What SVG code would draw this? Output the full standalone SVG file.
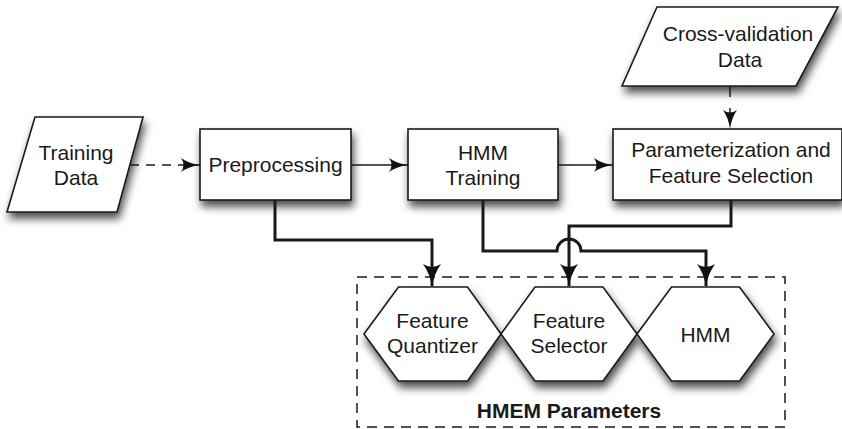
<svg xmlns="http://www.w3.org/2000/svg" width="842" height="429" viewBox="0 0 842 429">
<defs>
<filter id="sh" x="-20%" y="-20%" width="150%" height="160%">
<feDropShadow dx="2" dy="6" stdDeviation="4.5" flood-color="#000" flood-opacity="0.7"/>
</filter>
<marker id="thin" markerUnits="userSpaceOnUse" markerWidth="20" markerHeight="14" refX="19" refY="7" orient="auto" viewBox="0 0 20 14">
<path d="M0,0 Q8,5.5 19,7 Q8,8.5 0,14 Q5,7 0,0 Z" fill="#111"/>
</marker>
<marker id="thick" markerUnits="userSpaceOnUse" markerWidth="23" markerHeight="18" refX="22" refY="9" orient="auto" viewBox="0 0 23 18">
<path d="M0,0 Q10,7 22,9 Q10,11 0,18 Q6,9 0,0 Z" fill="#111"/>
</marker>
</defs>
<style>
.shape{fill:#fff;stroke:#1a1a1a;stroke-width:1.6;filter:url(#sh)}
.t{font-family:"Liberation Sans",Arial,sans-serif;font-size:21px;fill:#1a1a1a;text-anchor:middle}
.b{font-weight:bold}
.thin{fill:none;stroke:#1a1a1a;stroke-width:1.5}
.thk{fill:none;stroke:#1a1a1a;stroke-width:3;stroke-linejoin:miter}
.dash{stroke-dasharray:9,7}
</style>

<g id="hmem-parameters">
<rect x="357" y="277" width="428" height="150" fill="none" stroke="#1a1a1a" stroke-width="1.5" stroke-dasharray="10,7"/>
<text class="t b" x="569" y="418">HMEM Parameters</text>
</g>

<g id="training-data">
<polygon class="shape" points="35,117 143,117 117,212 7,212"/>
<text class="t" x="76" y="160">Training</text>
<text class="t" x="76" y="185">Data</text>
</g>

<g id="preprocessing">
<rect class="shape" x="200" y="129" width="151" height="71"/>
<text class="t" x="275.5" y="172">Preprocessing</text>
</g>

<g id="hmm-training">
<rect class="shape" x="408" y="129" width="150" height="71"/>
<text class="t" x="483" y="160">HMM</text>
<text class="t" x="483" y="185">Training</text>
</g>

<g id="parameterization">
<rect class="shape" x="613" y="129" width="229" height="71"/>
<text class="t" x="731" y="157">Parameterization and</text>
<text class="t" x="731" y="183">Feature Selection</text>
</g>

<g id="cross-validation-data">
<polygon class="shape" points="657,7 838,7 796,86 622,86"/>
<text class="t" x="738" y="41">Cross-validation</text>
<text class="t" x="740" y="67">Data</text>
</g>

<g id="feature-quantizer">
<polygon class="shape" points="364,334 398.5,287 467.5,287 501,334 467.5,381 398.5,381"/>
<text class="t" x="432.5" y="328">Feature</text>
<text class="t" x="432.5" y="353">Quantizer</text>
</g>

<g id="feature-selector">
<polygon class="shape" points="501,334 535,287 603,287 637,334 603,381 535,381"/>
<text class="t" x="569" y="328">Feature</text>
<text class="t" x="569" y="353">Selector</text>
</g>

<g id="hmm">
<polygon class="shape" points="637,334 671.5,287 739.5,287 774,334 739.5,381 671.5,381"/>
<text class="t" x="705.5" y="342">HMM</text>
</g>

<g id="connectors">
<path class="thin dash" d="M130,165 H200" marker-end="url(#thin)"/>
<path class="thin" d="M351,165 H408" marker-end="url(#thin)"/>
<path class="thin" d="M558,165 H613" marker-end="url(#thin)"/>
<path class="thin" d="M730,86 V129" stroke-dasharray="11,11" marker-end="url(#thin)"/>
<path class="thk" d="M275,200 V240 H432 V286" marker-end="url(#thick)"/>
<path class="thk" d="M483,200 V251 H557 A12,12 0 0 1 581,251 H706 V286" marker-end="url(#thick)"/>
<path class="thk" d="M731,200 V226 H569 V286" marker-end="url(#thick)"/>
</g>
</svg>
